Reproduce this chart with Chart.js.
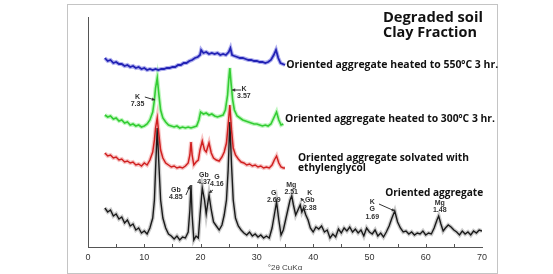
<!DOCTYPE html>
<html>
<head>
<meta charset="utf-8">
<script src="https://cdn.jsdelivr.net/npm/chart.js@4"></script>
<style>
  html, body { margin: 0; padding: 0; background: #fff; }
  #wrap { width: 553px; height: 274px; }
</style>
</head>
<body>
<div id="wrap"><canvas id="xrd"></canvas></div>
<script>
// 2θ positions and intensities (arbitrary, stacked offsets)
const blackTheta = [3.0, 3.5, 4.0, 4.5, 5.0, 5.5, 6.0, 6.5, 7.0, 7.5, 8.0, 8.5, 9.0, 9.5, 10.0, 10.5, 11.0, 11.5, 11.8, 12.0, 12.3, 12.6, 12.9, 13.3, 13.8, 14.3, 14.8, 15.3, 15.8, 16.3, 16.8, 17.3, 17.8, 18.1, 18.3, 18.5, 18.8, 19.2, 19.6, 19.9, 20.3, 20.7, 21.0, 21.5, 21.9, 22.3, 22.8, 23.3, 23.8, 24.2, 24.6, 24.9, 25.2, 25.5, 25.8, 26.2, 26.7, 27.2, 27.7, 28.2, 28.7, 29.2, 29.7, 30.2, 30.7, 31.2, 31.7, 32.2, 32.7, 33.1, 33.5, 33.9, 34.3, 34.7, 35.1, 35.5, 35.9, 36.2, 36.5, 36.9, 37.3, 37.7, 38.0, 38.3, 38.7, 39.1, 39.5, 40.0, 40.5, 41.0, 41.5, 42.0, 42.5, 43.0, 43.5, 44.0, 44.5, 45.0, 45.5, 46.0, 46.5, 47.0, 47.5, 48.0, 48.5, 49.0, 49.5, 50.0, 50.5, 51.0, 51.5, 52.0, 52.5, 53.0, 53.5, 54.0, 54.5, 55.0, 55.5, 56.0, 56.5, 57.0, 57.5, 58.0, 58.5, 59.0, 59.5, 60.0, 60.5, 61.0, 61.5, 62.0, 62.3, 62.7, 63.1, 63.5, 64.0, 64.5, 65.0, 65.5, 66.0, 66.5, 67.0, 67.5, 68.0, 68.5, 69.0, 69.5, 70.0]
const blackCounts = [39, 35, 37, 31, 33, 28, 30, 24, 27, 21, 23, 17, 19, 14, 16, 13, 19, 29, 47, 77, 119, 82, 47, 29, 19, 13, 11, 8, 11, 7, 10, 9, 15, 37, 62, 32, 7, 11, 9, 32, 59, 47, 33, 52, 37, 25, 21, 17, 22, 32, 47, 77, 125, 82, 47, 29, 21, 17, 14, 12, 15, 11, 13, 10, 12, 9, 11, 9, 19, 32, 45, 27, 12, 17, 27, 37, 47, 51, 42, 32, 37, 42, 35, 39, 32, 27, 19, 15, 20, 18, 21, 15, 17, 9, 13, 10, 18, 14, 19, 16, 20, 15, 18, 14, 17, 11, 19, 15, 13, 17, 11, 14, 10, 15, 21, 29, 36, 25, 19, 15, 16, 13, 15, 12, 14, 13, 16, 12, 14, 13, 19, 27, 31, 23, 16, 19, 22, 20, 17, 15, 12, 16, 13, 15, 12, 16, 14, 17, 16]

const redTheta = [3.0, 3.5, 4.0, 4.5, 5.0, 5.5, 6.0, 6.5, 7.0, 7.5, 8.0, 8.5, 9.0, 9.5, 10.0, 10.5, 11.0, 11.5, 11.8, 12.0, 12.3, 12.6, 12.9, 13.3, 13.8, 14.3, 14.8, 15.3, 15.8, 16.3, 16.8, 17.3, 17.8, 18.1, 18.3, 18.5, 18.8, 19.2, 19.6, 19.9, 20.3, 20.7, 21.0, 21.5, 21.9, 22.3, 22.8, 23.3, 23.8, 24.2, 24.6, 24.9, 25.2, 25.5, 25.8, 26.2, 26.7, 27.2, 27.7, 28.2, 28.7, 29.2, 29.7, 30.2, 30.7, 31.2, 31.7, 32.2, 32.7, 33.1, 33.5, 33.9, 34.3, 34.7, 35.0]
const redCounts = [94, 91, 92, 89, 90, 87, 88, 85, 86, 84, 85, 82, 83, 81, 84, 82, 87, 95, 107, 119, 129, 112, 97, 89, 84, 82, 80, 81, 79, 80, 79, 81, 84, 92, 105, 92, 82, 85, 87, 97, 106, 97, 95, 104, 94, 89, 87, 86, 90, 95, 104, 122, 142, 117, 99, 92, 88, 85, 84, 82, 83, 81, 82, 80, 81, 79, 80, 79, 82, 87, 91, 84, 80, 79, 79]

const greenTheta = [3.0, 3.5, 4.0, 4.5, 5.0, 5.5, 6.0, 6.5, 7.0, 7.5, 8.0, 8.5, 9.0, 9.5, 10.0, 10.5, 11.0, 11.5, 11.8, 12.0, 12.3, 12.6, 12.9, 13.3, 13.8, 14.3, 14.8, 15.3, 15.8, 16.3, 16.8, 17.3, 17.8, 18.3, 18.8, 19.3, 19.7, 20.0, 20.5, 21.0, 21.5, 22.0, 22.5, 23.0, 23.5, 24.0, 24.4, 24.8, 25.0, 25.2, 25.4, 25.7, 26.0, 26.5, 27.0, 27.5, 28.0, 28.5, 29.0, 29.5, 30.0, 30.5, 31.0, 31.5, 32.0, 32.5, 33.0, 33.5, 33.9, 34.3, 34.7]
const greenCounts = [132, 130, 131, 128, 129, 126, 127, 124, 125, 122, 123, 121, 122, 120, 121, 123, 127, 135, 147, 159, 169, 152, 137, 129, 125, 122, 121, 120, 121, 119, 120, 119, 120, 119, 120, 121, 127, 135, 133, 134, 132, 133, 131, 130, 131, 132, 137, 152, 167, 179, 165, 147, 137, 131, 129, 127, 126, 125, 124, 123, 123, 122, 121, 122, 121, 123, 129, 135, 127, 122, 123]

const blueTheta = [3.0, 3.5, 4.0, 4.5, 5.0, 5.5, 6.0, 6.5, 7.0, 7.5, 8.0, 8.5, 9.0, 9.5, 10.0, 10.5, 11.0, 11.5, 12.0, 12.5, 13.0, 13.5, 14.0, 14.5, 15.0, 15.5, 16.0, 16.5, 17.0, 17.5, 18.0, 18.5, 19.0, 19.5, 19.9, 20.1, 20.5, 21.0, 21.5, 22.0, 22.5, 23.0, 23.5, 24.0, 24.5, 25.0, 25.3, 25.6, 26.0, 26.5, 27.0, 27.5, 28.0, 28.5, 29.0, 29.5, 30.0, 30.5, 31.0, 31.5, 32.0, 32.5, 33.0, 33.4, 33.8, 34.2, 34.6, 35.0]
const blueCounts = [189, 186, 187, 184, 185, 183, 183, 181, 182, 180, 181, 179, 180, 178, 179, 177, 178, 177, 178, 177, 178, 178, 179, 179, 180, 180, 182, 182, 184, 184, 186, 187, 189, 190, 192, 197, 194, 195, 193, 194, 193, 194, 192, 193, 192, 195, 199, 192, 191, 190, 189, 189, 188, 187, 187, 186, 186, 185, 185, 184, 185, 187, 192, 197, 189, 184, 183, 182]

const xTickLabels = [0, 10, 20, 30, 40, 50, 60, 70]
const seriesNames = ['Oriented aggregate heated to 550ºC 3 hr.', 'Oriented aggregate heated to 300ºC 3 hr.', 'Oriented aggregate solvated with', 'ethylenglycol', 'Oriented aggregate']
const titleLines = ['Degraded soil', 'Clay Fraction']
const peakTexts = [['K', '7.35'], ['K', '3.57'], ['Gb', '4.85'], ['Gb', '4.37'], ['G', '4.16'], ['G', '2.69'], ['Mg', '2.51'], ['K', 'Gb', '2.38'], ['K', 'G', '1.69'], ['Mg', '1.48']]

function pts (theta, counts) {
  return theta.map((t, i) => ({ x: t, y: counts[i] }))
}

// where the texts sit, in (2θ, intensity) units
const peakSpots = [[8.8, 150], [27.7, 158], [15.6, 57], [20.6, 72], [22.9, 70], [33.0, 54], [36.1, 62], [39.4, 54], [50.5, 45], [62.5, 44]]
const arrows = [[10.1, 150, 11.9, 147], [27.2, 157, 25.6, 157], [17.4, 52, 18.1, 61], [22.2, 57, 21.5, 54], [38.6, 44, 37.8, 49], [51.7, 43, 54.5, 36]]
const nameSpots = [[35.2, 182, 212], [35.0, 128, 210], [37.3, 89, 171], [37.3, 79, 68], [52.8, 54, 98]]
const titleSpots = [[52.4, 229, 100], [52.4, 214, 94]]

function fitText (ctx, str, x, y, width, font) {
  ctx.font = font
  const w = ctx.measureText(str).width
  ctx.save()
  ctx.translate(x, y)
  ctx.scale(width / w, 1)
  ctx.textBaseline = 'middle'
  ctx.textAlign = 'left'
  ctx.fillText(str, 0, 0)
  ctx.restore()
}

const decor = {
  id: 'decor',
  beforeDraw (chart) {
    const ctx = chart.ctx
    ctx.save()
    ctx.fillStyle = '#fff'
    ctx.fillRect(0, 0, chart.width, chart.height)
    ctx.strokeStyle = '#c4c4c4'
    ctx.lineWidth = 1
    ctx.strokeRect(67.5, 4.5, 430, 269)
    ctx.restore()
  },
  afterDraw (chart) {
    const ctx = chart.ctx
    const xs = chart.scales.x
    const ys = chart.scales.y
    const bottom = chart.chartArea.bottom
    ctx.save()
    // inward ticks every 5°
    ctx.strokeStyle = '#555'
    ctx.lineWidth = 1
    for (let v = 5; v < 70; v += 5) {
      const px = Math.round(xs.getPixelForValue(v)) + 0.5
      ctx.beginPath()
      ctx.moveTo(px, bottom)
      ctx.lineTo(px, bottom - 3)
      ctx.stroke()
    }
    // peak labels
    ctx.fillStyle = '#333'
    ctx.font = 'bold 7px "Liberation Sans"'
    ctx.textAlign = 'center'
    ctx.textBaseline = 'middle'
    peakTexts.forEach((lines, i) => {
      const cx = xs.getPixelForValue(peakSpots[i][0])
      const cy = ys.getPixelForValue(peakSpots[i][1])
      lines.forEach((s, j) => ctx.fillText(s, cx, cy + j * 7.5))
    })
    // arrows
    ctx.strokeStyle = '#333'
    ctx.fillStyle = '#333'
    arrows.forEach(a => {
      const x1 = xs.getPixelForValue(a[0]); const y1 = ys.getPixelForValue(a[1])
      const x2 = xs.getPixelForValue(a[2]); const y2 = ys.getPixelForValue(a[3])
      const ang = Math.atan2(y2 - y1, x2 - x1)
      ctx.beginPath()
      ctx.moveTo(x1, y1)
      ctx.lineTo(x2, y2)
      ctx.stroke()
      ctx.beginPath()
      ctx.moveTo(x2, y2)
      ctx.lineTo(x2 - 3.5 * Math.cos(ang - 0.5), y2 - 3.5 * Math.sin(ang - 0.5))
      ctx.lineTo(x2 - 3.5 * Math.cos(ang + 0.5), y2 - 3.5 * Math.sin(ang + 0.5))
      ctx.closePath()
      ctx.fill()
    })
    // series names
    ctx.fillStyle = '#111'
    seriesNames.forEach((s, i) => {
      const p = nameSpots[i]
      fitText(ctx, s, xs.getPixelForValue(p[0]), ys.getPixelForValue(p[1]), p[2], 'bold 10px "Open Sans"')
    })
    titleLines.forEach((s, i) => {
      const p = titleSpots[i]
      fitText(ctx, s, xs.getPixelForValue(p[0]), ys.getPixelForValue(p[1]), p[2], 'bold 14px "Open Sans"')
    })
    ctx.restore()
  }
}

const series = [
  { theta: blueTheta, counts: blueCounts, color: '#2222b4', halo: 'rgba(80,80,220,0.45)', w: 1.8 },
  { theta: greenTheta, counts: greenCounts, color: '#33cc33', halo: 'rgba(110,235,110,0.45)', w: 1.6 },
  { theta: redTheta, counts: redCounts, color: '#d02020', halo: 'rgba(235,110,110,0.4)', w: 1.5 },
  { theta: blackTheta, counts: blackCounts, color: '#1a1a1a', halo: 'rgba(110,110,110,0.35)', w: 1.4 }
]
const datasets = []
series.forEach(s => {
  datasets.push({ data: pts(s.theta, s.counts), borderColor: s.color, borderWidth: s.w, pointRadius: 0, tension: 0, order: 1 })
  datasets.push({ data: pts(s.theta, s.counts), borderColor: s.halo, borderWidth: 4, pointRadius: 0, tension: 0, order: 2 })
})

new Chart(document.getElementById('xrd').getContext('2d'), {
  type: 'line',
  data: { datasets: datasets },
  options: {
    responsive: true,
    maintainAspectRatio: false,
    animation: false,
    devicePixelRatio: 1,
    layout: { padding: { left: 88, right: 71, top: 17, bottom: 0 } },
    plugins: { legend: { display: false }, tooltip: { enabled: false } },
    scales: {
      x: {
        type: 'linear',
        min: 0,
        max: 70,
        grid: { drawOnChartArea: false, drawTicks: false },
        border: { color: '#555', width: 1 },
        ticks: {
          stepSize: 5,
          autoSkip: false,
          maxRotation: 0,
          padding: 5,
          color: '#333',
          font: { family: '"Liberation Sans"', size: 9 },
          callback: v => xTickLabels.includes(v) ? String(v) : ''
        },
        title: { display: true, text: '°2θ CuKα', color: '#444', font: { family: '"Liberation Sans"', size: 8 }, padding: { top: 0, bottom: 1 } },
        afterFit: s => { s.height = 27 }
      },
      y: {
        min: 0,
        max: 230,
        grid: { drawOnChartArea: false, drawTicks: false },
        border: { color: '#555', width: 1 },
        ticks: { display: false },
        afterFit: s => { s.width = 0 }
      }
    }
  },
  plugins: [decor]
})
</script>
</body>
</html>
